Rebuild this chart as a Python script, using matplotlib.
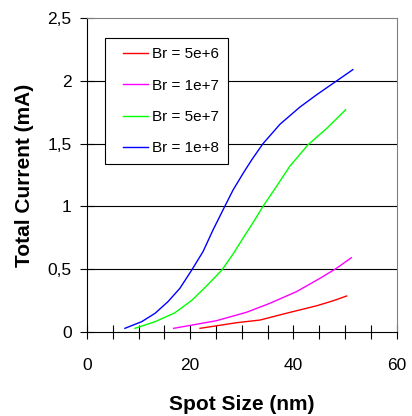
import numpy as np
import matplotlib
matplotlib.use("Agg")
import matplotlib.pyplot as plt
from matplotlib.ticker import MultipleLocator, FuncFormatter
from matplotlib.legend_handler import HandlerLine2D

plt.rcParams['font.family'] = ['Liberation Sans', 'DejaVu Sans']

# values (spot size nm, total current mA)
br_5e6_x = [21.9, 29.0, 33.5, 38.6, 44.5, 47.7, 50.3]
br_5e6_y = [0.027, 0.072, 0.093, 0.147, 0.207, 0.247, 0.285]

br_1e7_x = [16.8, 25.1, 30.9, 35.4, 40.6, 45.1, 48.3, 51.2]
br_1e7_y = [0.027, 0.088, 0.155, 0.226, 0.32, 0.425, 0.505, 0.59]

br_5e7_x = [9.3, 13.2, 17.0, 20.3, 22.8, 26.1, 28.3, 30.6, 32.4, 34.1, 36.4, 39.3, 42.8, 46.4, 50.1]
br_5e7_y = [0.027, 0.08, 0.15, 0.25, 0.35, 0.49, 0.62, 0.77, 0.885, 1.0, 1.14, 1.32, 1.49, 1.62, 1.77]

br_1e8_x = [7.35, 10.6, 13.2, 15.7, 18.0, 20.3, 22.5, 24.4, 26.7, 28.3, 30.2, 31.9, 34.1, 37.4, 41.2,
            44.5, 48.0, 51.5]
br_1e8_y = [0.027, 0.08, 0.147, 0.24, 0.346, 0.492, 0.64, 0.81, 1.0, 1.13, 1.26, 1.37, 1.50, 1.655, 1.79,
            1.89, 1.99, 2.09]

labels = ['Br = 5e+6', 'Br = 1e+7', 'Br = 5e+7', 'Br = 1e+8']
colors = ['#ff0000', '#ff00ff', '#00ff00', '#0000ff']


class ShortLine(HandlerLine2D):
    # legend line only on the right part of the handle box
    def create_artists(self, legend, orig_handle, xdescent, ydescent, width, height, fontsize, trans):
        arts = super().create_artists(legend, orig_handle, xdescent, ydescent, width, height, fontsize, trans)
        x1 = -xdescent + width
        for a in arts:
            n = len(a.get_xdata())
            if n > 1:
                a.set_xdata(np.linspace(x1 - width * 0.72, x1, n))
        return arts


fig = plt.figure(figsize=(4.12, 4.16), dpi=100)
ax = fig.add_axes([0.211, 0.2026, 0.752, 0.7536])

series = [(br_5e6_x, br_5e6_y), (br_1e7_x, br_1e7_y),
          (br_5e7_x, br_5e7_y), (br_1e8_x, br_1e8_y)]
for (x, y), lab, c in zip(series, labels, colors):
    ax.plot(x, y, color=c, lw=1.0, label=lab)

ax.set_xlim(0, 60)
ax.set_ylim(0, 2.5)
ax.xaxis.set_major_locator(MultipleLocator(20))
ax.xaxis.set_minor_locator(MultipleLocator(5))
ax.yaxis.set_major_locator(MultipleLocator(0.5))
ax.yaxis.set_major_formatter(FuncFormatter(lambda v, p: ('%g' % v).replace('.', ',')))

for y in [0.5, 1.0, 1.5, 2.0]:
    ax.axhline(y, color='black', lw=0.8, zorder=0)

ax.tick_params(axis='x', which='both', direction='inout', length=10, width=0.8,
               labelsize=12.5, pad=14)
ax.tick_params(axis='y', which='major', direction='inout', length=10, width=0.8,
               labelsize=12.5, pad=6)
ax.spines['left'].set_color('black')
ax.spines['bottom'].set_color('black')
ax.spines['top'].set_color('#808080')
ax.spines['right'].set_color('#808080')
for s in ax.spines.values():
    s.set_linewidth(0.8)

ax.set_xlabel('Spot Size (nm)', fontsize=15, fontweight='bold', labelpad=16)
ax.set_ylabel('Total Current (mA)', fontsize=15, fontweight='bold', labelpad=10)

leg = ax.legend(loc='upper left', bbox_to_anchor=(0.058, 0.936), fontsize=11,
                frameon=True, fancybox=False, shadow=False, handlelength=2.2,
                labelspacing=1.13, borderpad=0.6, handletextpad=0.26, borderaxespad=0,
                handler_map={plt.Line2D: ShortLine()})
leg.get_frame().set_edgecolor('black')
leg.get_frame().set_linewidth(0.8)
leg.get_frame().set_alpha(1)

fig.savefig('out.png', dpi=100)
